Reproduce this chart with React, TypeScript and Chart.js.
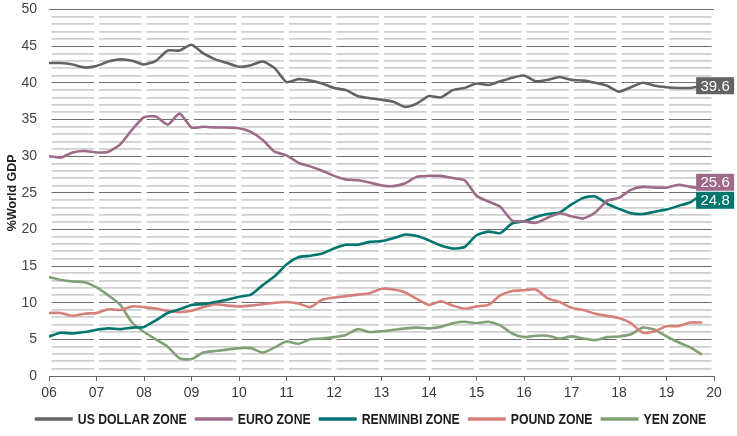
import React, { useEffect, useRef } from "react";
import { Chart, registerables } from "chart.js";

Chart.register(...registerables);

// quarterly sample points (decimal years)
const quarters = [
  2006, 2006.25, 2006.5, 2006.75, 2007, 2007.25, 2007.5, 2007.75,
  2008, 2008.25, 2008.5, 2008.75, 2009, 2009.25, 2009.5, 2009.75,
  2010, 2010.25, 2010.5, 2010.75, 2011, 2011.25, 2011.5, 2011.75,
  2012, 2012.25, 2012.5, 2012.75, 2013, 2013.25, 2013.5, 2013.75,
  2014, 2014.25, 2014.5, 2014.75, 2015, 2015.25, 2015.5, 2015.75,
  2016, 2016.25, 2016.5, 2016.75, 2017, 2017.25, 2017.5, 2017.75,
  2018, 2018.25, 2018.5, 2018.75, 2019, 2019.25, 2019.5, 2019.75,
];

const usDollarZone = [
  42.7, 42.7, 42.5, 42.1, 42.3, 42.9, 43.2, 43.0,
  42.5, 43.0, 44.4, 44.4, 45.2, 44.0, 43.2, 42.7,
  42.2, 42.4, 42.9, 42.0, 40.1, 40.5, 40.3, 39.9,
  39.3, 39.0, 38.2, 37.9, 37.7, 37.4, 36.7, 37.2,
  38.2, 38.0, 39.0, 39.3, 39.9, 39.7, 40.2, 40.7,
  41.0, 40.2, 40.4, 40.8, 40.4, 40.3, 40.0, 39.6,
  38.8, 39.4, 40.0, 39.6, 39.4, 39.3, 39.3, 39.6,
];

const euroZone = [
  30.0, 29.8, 30.5, 30.7, 30.5, 30.6, 31.6, 33.6,
  35.3, 35.4, 34.3, 35.8, 33.9, 34.0, 33.9, 33.9,
  33.8, 33.3, 32.2, 30.6, 30.1, 29.1, 28.6, 28.0,
  27.3, 26.8, 26.7, 26.4, 26.0, 25.9, 26.3, 27.2,
  27.3, 27.3, 27.0, 26.7, 24.6, 23.8, 23.1, 21.2,
  21.1, 20.9, 21.6, 22.2, 21.8, 21.5, 22.3, 23.9,
  24.3, 25.4, 25.8, 25.7, 25.7, 26.1, 25.8, 25.6,
];

const renminbiZone = [
  5.4, 5.9, 5.8, 6.0, 6.3, 6.5, 6.4, 6.6,
  6.7, 7.6, 8.6, 9.1, 9.7, 9.8, 10.1, 10.4,
  10.8, 11.1, 12.4, 13.6, 15.2, 16.2, 16.4, 16.7,
  17.4, 17.9, 17.9, 18.3, 18.4, 18.8, 19.3, 19.1,
  18.5, 17.8, 17.4, 17.6, 19.2, 19.7, 19.5, 20.8,
  21.1, 21.7, 22.1, 22.3, 23.4, 24.3, 24.5, 23.5,
  22.8, 22.2, 22.1, 22.4, 22.7, 23.2, 23.7, 24.8,
];

const poundZone = [
  8.6, 8.6, 8.2, 8.5, 8.6, 9.1, 9.0, 9.5,
  9.4, 9.2, 8.9, 8.7, 8.9, 9.4, 9.8, 9.6,
  9.5, 9.6, 9.8, 10.0, 10.1, 9.9, 9.4, 10.4,
  10.7, 10.9, 11.1, 11.3, 11.9, 11.8, 11.4, 10.5,
  9.7, 10.2, 9.6, 9.2, 9.5, 9.7, 11.0, 11.6,
  11.7, 11.8, 10.6, 10.1, 9.3, 9.0, 8.5, 8.2,
  7.9, 7.2, 5.9, 6.1, 6.8, 6.8, 7.3, 7.3,
];

const yenZone = [
  13.5, 13.1, 12.9, 12.8, 12.1, 11.0, 9.7, 7.3,
  6.0, 5.0, 4.0, 2.4, 2.3, 3.2, 3.4, 3.6,
  3.8, 3.8, 3.2, 3.9, 4.7, 4.4, 5.0, 5.1,
  5.3, 5.6, 6.4, 6.0, 6.1, 6.3, 6.5, 6.6,
  6.5, 6.7, 7.2, 7.4, 7.2, 7.4, 6.9, 5.8,
  5.3, 5.5, 5.5, 5.1, 5.4, 5.1, 4.9, 5.3,
  5.4, 5.7, 6.6, 6.3, 5.4, 4.6, 3.9, 2.9,
];

const seriesNames = ["US DOLLAR ZONE", "EURO ZONE", "RENMINBI ZONE", "POUND ZONE", "YEN ZONE"];
const seriesValues = [usDollarZone, euroZone, renminbiZone, poundZone, yenZone];
const seriesColors = ["#636363", "#9d6a89", "#00766f", "#d6807b", "#80a175"];
const endLabelled = [0, 1, 2];

const FIRST_YEAR = 2006;
const LAST_YEAR = 2020;

const baseFont = '"Liberation Sans", Arial, sans-serif';
const legendFont = 'bold 15px "Liberation Sans", Arial, sans-serif';

// white breaks in the horizontal grid at every year
const yearGapPlugin = {
  id: "yearGaps",
  beforeDatasetsDraw(chart: any) {
    const { ctx, chartArea, scales } = chart;
    ctx.save();
    ctx.strokeStyle = "#ffffff";
    ctx.lineWidth = 5;
    for (let yr = FIRST_YEAR; yr <= LAST_YEAR; yr++) {
      const px = scales.x.getPixelForValue(yr);
      ctx.beginPath();
      ctx.moveTo(px, chartArea.top + 1.5);
      ctx.lineTo(px, chartArea.bottom - 1);
      ctx.stroke();
    }
    ctx.restore();
  },
};

// value boxes at the end of the first three lines
const endLabelPlugin = {
  id: "endLabels",
  afterDatasetsDraw(chart: any) {
    const { ctx } = chart;
    const h = 17;
    const w = 38;
    const items = endLabelled.map((i) => {
      const meta = chart.getDatasetMeta(i);
      const pt = meta.data[meta.data.length - 1];
      const vals = seriesValues[i];
      return { i, x: pt.x, y: pt.y, text: vals[vals.length - 1].toFixed(1) };
    });
    items.sort((a, b) => a.y - b.y);
    for (let k = 1; k < items.length; k++) {
      const diff = items[k].y - items[k - 1].y;
      if (diff < h + 1) {
        const push = (h + 1 - diff) / 2;
        items[k - 1].y -= push;
        items[k].y += push;
      }
    }
    ctx.save();
    ctx.font = "15px " + baseFont;
    ctx.textAlign = "center";
    ctx.textBaseline = "middle";
    items.forEach((it) => {
      const left = it.x - 6;
      ctx.fillStyle = seriesColors[it.i];
      ctx.fillRect(left, it.y - h / 2, w, h);
      ctx.fillStyle = "#ffffff";
      ctx.fillText(it.text, left + w / 2, it.y + 1);
    });
    ctx.restore();
  },
};

// legend drawn by hand, condensed by a horizontal squeeze (no narrow font installed)
const legendPlugin = {
  id: "bottomLegend",
  afterDraw(chart: any) {
    const { ctx, width } = chart;
    const swatch = 38;
    const gap = 5;
    const between = 8;
    ctx.save();
    ctx.font = legendFont;
    const squeeze = 109 / ctx.measureText(seriesNames[0]).width;
    const textW = seriesNames.map((n) => ctx.measureText(n).width * squeeze);
    const total =
      textW.reduce((s, t) => s + swatch + gap + t, 0) + between * (seriesNames.length - 1);
    let x = width / 2 + 2 - total / 2;
    const y = 419;
    ctx.textBaseline = "middle";
    seriesNames.forEach((n, i) => {
      ctx.fillStyle = seriesColors[i];
      ctx.fillRect(x, y - 1.75, swatch, 3.5);
      x += swatch + gap;
      ctx.fillStyle = "#1c1c1c";
      ctx.save();
      ctx.translate(x, y + 1);
      ctx.scale(squeeze, 1);
      ctx.fillText(n, 0, 0);
      ctx.restore();
      x += textW[i] + between;
    });
    ctx.restore();
  },
};

const App: React.FC = () => {
  const canvasRef = useRef<HTMLCanvasElement | null>(null);

  useEffect(() => {
    if (!canvasRef.current) return;
    const ctx = canvasRef.current.getContext("2d");
    if (!ctx) return;

    const chart = new Chart(ctx, {
      type: "line",
      data: {
        datasets: seriesNames.map((name, i) => ({
          label: name,
          data: quarters.map((q, k) => ({ x: q, y: seriesValues[i][k] })),
          borderColor: seriesColors[i],
          backgroundColor: seriesColors[i],
          borderWidth: 2.6,
          pointRadius: 0,
          tension: 0.2,
          fill: false,
        })),
      },
      options: {
        responsive: true,
        maintainAspectRatio: false,
        animation: false,
        layout: { padding: { top: 0, right: 23, bottom: 33, left: 0 } },
        plugins: {
          legend: { display: false },
          tooltip: { enabled: false },
        },
        scales: {
          x: {
            type: "linear",
            min: FIRST_YEAR,
            max: LAST_YEAR,
            afterFit: (scale: any) => {
              scale.height = 27;
            },
            ticks: {
              stepSize: 1,
              autoSkip: false,
              maxRotation: 0,
              padding: 4,
              color: "#3a3a3a",
              font: { family: baseFont, size: 14 },
              callback: (v: any) => String(Number(v) % 100).padStart(2, "0"),
            },
            grid: {
              drawOnChartArea: false,
              drawTicks: true,
              tickLength: 5,
              color: "#666666",
            },
            border: { display: true, color: "#666666", width: 1 },
          },
          y: {
            min: 0,
            max: 50,
            afterFit: (scale: any) => {
              scale.width = 49;
              scale.paddingTop = 9.5;
              scale.paddingBottom = 0;
            },
            title: {
              display: true,
              text: "%World GDP",
              color: "#222222",
              font: { family: baseFont, size: 12.5, weight: "bold" },
              padding: { top: 5, bottom: 0 },
            },
            ticks: {
              stepSize: 1,
              autoSkip: false,
              padding: 12,
              color: "#444444",
              font: { family: baseFont, size: 14 },
              callback: (v: any) => (Number(v) % 5 === 0 ? String(v) : ""),
            },
            grid: {
              drawTicks: false,
              color: (c: any) => (c.tick && c.tick.value % 5 === 0 ? "#6e6e6e" : "#cfcfcf"),
              lineWidth: (c: any) => (c.tick && c.tick.value % 5 === 0 ? 1 : 1.8),
            },
            border: { display: false },
          },
        },
      },
      plugins: [yearGapPlugin, endLabelPlugin, legendPlugin],
    });

    return () => {
      chart.destroy();
    };
  }, []);

  return (
    <div style={{ position: "fixed", left: 0, top: 0, width: 737, height: 436, background: "#ffffff" }}>
      <canvas ref={canvasRef}></canvas>
    </div>
  );
};

export default App;
